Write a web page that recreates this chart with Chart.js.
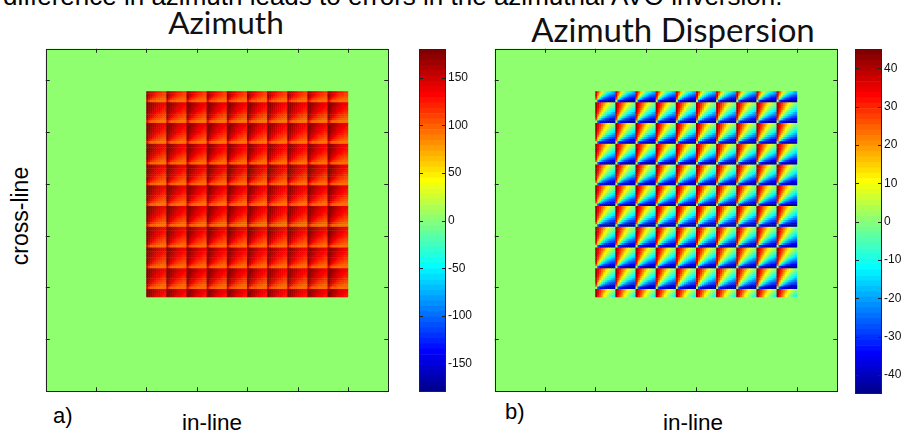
<!DOCTYPE html>
<html>
<head>
<meta charset="utf-8">
<script src="https://cdn.jsdelivr.net/npm/chart.js@4.4.1/dist/chart.umd.min.js"></script>
<style>
  html, body { margin: 0; padding: 0; background: #fff; }
  #page { position: relative; width: 902px; height: 432px; overflow: hidden; background: #fff; }
  canvas { position: absolute; }
  .txt { position: absolute; white-space: nowrap; line-height: 1; color: #000; }
  .arial { font-family: "Liberation Sans", Arial, sans-serif; }
  .title { font-family: Lato, "Open Sans", sans-serif; color: #111; }
</style>
</head>
<body>
<div id="page">
  <div class="txt arial" style="left:3px; top:-17.5px; font-size:26px;">difference in azimuth leads to errors in the azimuthal AVO inversion.</div>
  <div class="txt title" style="left:226px; top:7px; font-size:31.5px; transform:translateX(-50%);">Azimuth</div>
  <div class="txt title" style="left:673px; top:12.5px; font-size:33px; transform:translateX(-50%);">Azimuth Dispersion</div>

  <div class="txt arial" style="left:20px; top:216px; font-size:23px; transform:translate(-50%,-50%) rotate(-90deg);">cross-line</div>
  <div class="txt arial" style="left:212px; top:412px; font-size:22.5px; transform:translateX(-50%);">in-line</div>
  <div class="txt arial" style="left:693px; top:412px; font-size:22.5px; transform:translateX(-50%);">in-line</div>
  <div class="txt arial" style="left:53px; top:405px; font-size:22px;">a)</div>
  <div class="txt arial" style="left:505px; top:401px; font-size:22px;">b)</div>

  <canvas id="azimuthMap" width="346" height="346" style="left:44px; top:47px;"></canvas>
  <canvas id="azimuthBar" width="70" height="362" style="left:418px; top:40px;"></canvas>
  <canvas id="dispersionMap" width="346" height="346" style="left:493px; top:47px;"></canvas>
  <canvas id="dispersionBar" width="70" height="364" style="left:854px; top:40px;"></canvas>
</div>
<script>
// axes (in-line / cross-line)
const inlineTicks = [10, 20, 30, 40, 50, 60];
const crosslineTicks = [10, 20, 30, 40, 50, 60];
const inlineRange = [0, 68];
const crosslineRange = [0, 66];

// the patterned block and its cells
const patchInline = [20, 60];
const patchCrossline = [18, 57.75];
const cellSize = 4;
const rowStart = 15.75;   // cross-line where a row of cells begins

// one cell, sampled 10 x 10 (top row first), degrees
const azimuthTile = [
    [177, 171, 165, 160, 155, 150, 146, 142, 138, 135],
    [177, 170, 164, 158, 152, 147, 143, 139, 135, 132],
    [176, 169, 162, 155, 149, 144, 139, 135, 131, 128],
    [176, 167, 159, 152, 145, 140, 135, 131, 127, 124],
    [175, 165, 156, 148, 141, 135, 130, 126, 123, 120],
    [174, 162, 151, 142, 135, 129, 125, 121, 118, 115],
    [172, 157, 145, 135, 128, 122, 118, 115, 112, 110],
    [169, 149, 135, 125, 119, 114, 111, 108, 106, 105],
    [162, 135, 121, 113, 108, 105, 103, 101, 100, 99],
    [135, 108, 101, 98, 96, 95, 94, 94, 93, 93]
];
const dispersionTile = [
    [42, 36, 30, 25, 20, 15, 11, 7, 3, 0],
    [42, 35, 29, 23, 17, 12, 8, 4, 0, -3],
    [41, 34, 27, 20, 14, 9, 4, 0, -4, -7],
    [41, 32, 24, 17, 10, 5, 0, -4, -8, -11],
    [40, 30, 21, 13, 6, 0, -5, -9, -12, -15],
    [39, 27, 16, 7, 0, -6, -10, -14, -17, -20],
    [37, 22, 10, 0, -7, -13, -17, -20, -23, -25],
    [34, 14, 0, -10, -16, -21, -24, -27, -29, -30],
    [27, 0, -14, -22, -27, -30, -32, -34, -35, -36],
    [0, -27, -34, -37, -39, -40, -41, -41, -42, -42]
];
const backgroundValue = 0;

// colour bars
const azimuthLimits = [-180, 180];
const azimuthBarTicks = [-150, -100, -50, 0, 50, 100, 150];
const dispersionLimits = [-45, 45];
const dispersionBarTicks = [-40, -30, -20, -10, 0, 10, 20, 30, 40];

Chart.defaults.font.family = '"Liberation Sans", Arial, sans-serif';

// MATLAB jet(64)
function jetIndex(k) {
    const cl = t => Math.round(255 * Math.min(1, Math.max(0, t)));
    const r = cl(Math.min((k - 24) / 16, 1 - (k - 56) / 16));
    const g = cl(Math.min((k - 8) / 16, 1 - (k - 40) / 16));
    const b = cl(Math.min((k + 8) / 16, 1 - (k - 24) / 16));
    return 'rgb(' + r + ',' + g + ',' + b + ')';
}
function jet(v, limits) {
    let k = Math.floor((v - limits[0]) / (limits[1] - limits[0]) * 64) + 1;
    k = Math.min(64, Math.max(1, k));
    return jetIndex(k);
}

function buildCells(tile) {
    const n = tile.length;
    const step = cellSize / n;
    const pts = [];
    for (let x0 = patchInline[0]; x0 < patchInline[1] - 1e-6; x0 += cellSize) {
        for (let y0 = rowStart; y0 < patchCrossline[1]; y0 += cellSize) {
            for (let r = 0; r < n; r++) {
                for (let c = 0; c < n; c++) {
                    const x = x0 + (c + 0.5) * step;
                    const y = y0 + cellSize - (r + 0.5) * step;
                    if (y < patchCrossline[0] || y > patchCrossline[1]) continue;
                    pts.push({ x: x, y: y, v: tile[r][c] });
                }
            }
        }
    }
    return pts;
}

// green background, box and inward ticks
const mapFrame = {
    id: 'mapFrame',
    beforeDatasetsDraw(chart, args, opts) {
        const a = chart.chartArea, ctx = chart.ctx;
        ctx.save();
        ctx.fillStyle = opts.fill;
        ctx.fillRect(a.left, a.top, a.right - a.left, a.bottom - a.top);
        ctx.restore();
    },
    afterDraw(chart) {
        const a = chart.chartArea, ctx = chart.ctx;
        const xs = chart.scales.x, ys = chart.scales.y;
        ctx.save();
        ctx.strokeStyle = '#222';
        ctx.lineWidth = 1;
        ctx.beginPath();
        inlineTicks.forEach(v => {
            const px = Math.round(xs.getPixelForValue(v)) + 0.5;
            ctx.moveTo(px, a.bottom); ctx.lineTo(px, a.bottom - 4);
            ctx.moveTo(px, a.top); ctx.lineTo(px, a.top + 4);
        });
        crosslineTicks.forEach(v => {
            const py = Math.round(ys.getPixelForValue(v)) + 0.5;
            ctx.moveTo(a.left, py); ctx.lineTo(a.left + 4, py);
            ctx.moveTo(a.right, py); ctx.lineTo(a.right - 4, py);
        });
        ctx.stroke();
        ctx.strokeRect(Math.round(a.left) + 0.5, Math.round(a.top) + 0.5,
            Math.round(a.right - a.left) - 1, Math.round(a.bottom - a.top) - 1);
        ctx.restore();
    }
};

function drawMap(id, tile, limits) {
    const pts = buildCells(tile);
    new Chart(document.getElementById(id), {
        type: 'scatter',
        data: {
            datasets: [{
                data: pts,
                pointStyle: 'rect',
                pointRadius: 1.75,
                pointHoverRadius: 1.75,
                pointBorderWidth: 0,
                pointBackgroundColor: pts.map(p => jet(p.v, limits))
            }]
        },
        options: {
            responsive: false,
            animation: false,
            events: [],
            layout: { padding: 1 },
            plugins: {
                legend: { display: false },
                tooltip: { enabled: false },
                mapFrame: { fill: jet(backgroundValue, limits) }
            },
            scales: {
                x: { type: 'linear', display: false, min: inlineRange[0], max: inlineRange[1] },
                y: { type: 'linear', display: false, min: crosslineRange[0], max: crosslineRange[1] }
            }
        },
        plugins: [mapFrame]
    });
}

// colour bar box and its ticks on both edges
const barFrame = {
    id: 'barFrame',
    afterDraw(chart, args, opts) {
        const a = chart.chartArea, ctx = chart.ctx, ys = chart.scales.y;
        ctx.save();
        ctx.strokeStyle = '#222';
        ctx.lineWidth = 1;
        ctx.beginPath();
        opts.ticks.forEach(v => {
            const py = Math.round(ys.getPixelForValue(v)) + 0.5;
            ctx.moveTo(a.left, py); ctx.lineTo(a.left + 4, py);
            ctx.moveTo(a.right, py); ctx.lineTo(a.right - 4, py);
        });
        ctx.stroke();
        ctx.strokeRect(Math.round(a.left) + 0.5, Math.round(a.top) + 0.5,
            Math.round(a.right - a.left) - 1, Math.round(a.bottom - a.top) - 1);
        ctx.restore();
    }
};

function drawBar(id, limits, ticks) {
    const step = (limits[1] - limits[0]) / 64;
    const datasets = [];
    for (let k = 0; k < 64; k++) {
        datasets.push({
            data: [[limits[0] + k * step, limits[0] + (k + 1) * step]],
            backgroundColor: jetIndex(k + 1),
            borderWidth: 0,
            grouped: false,
            barPercentage: 1,
            categoryPercentage: 1
        });
    }
    new Chart(document.getElementById(id), {
        type: 'bar',
        data: { labels: [''], datasets: datasets },
        options: {
            responsive: false,
            animation: false,
            events: [],
            layout: { padding: { left: 1, top: 9, bottom: 10, right: 0 } },
            plugins: {
                legend: { display: false },
                tooltip: { enabled: false },
                barFrame: { ticks: ticks }
            },
            scales: {
                x: { display: false },
                y: {
                    position: 'right',
                    min: limits[0],
                    max: limits[1],
                    afterBuildTicks: s => { s.ticks = ticks.map(v => ({ value: v })); },
                    afterFit: s => { s.width = 42; },
                    grid: { display: false, drawTicks: false },
                    border: { display: false },
                    ticks: { color: '#111', padding: 2, font: { size: 12 } }
                }
            }
        },
        plugins: [barFrame]
    });
}

drawMap('azimuthMap', azimuthTile, azimuthLimits);
drawMap('dispersionMap', dispersionTile, dispersionLimits);
drawBar('azimuthBar', azimuthLimits, azimuthBarTicks);
drawBar('dispersionBar', dispersionLimits, dispersionBarTicks);
</script>
</body>
</html>
